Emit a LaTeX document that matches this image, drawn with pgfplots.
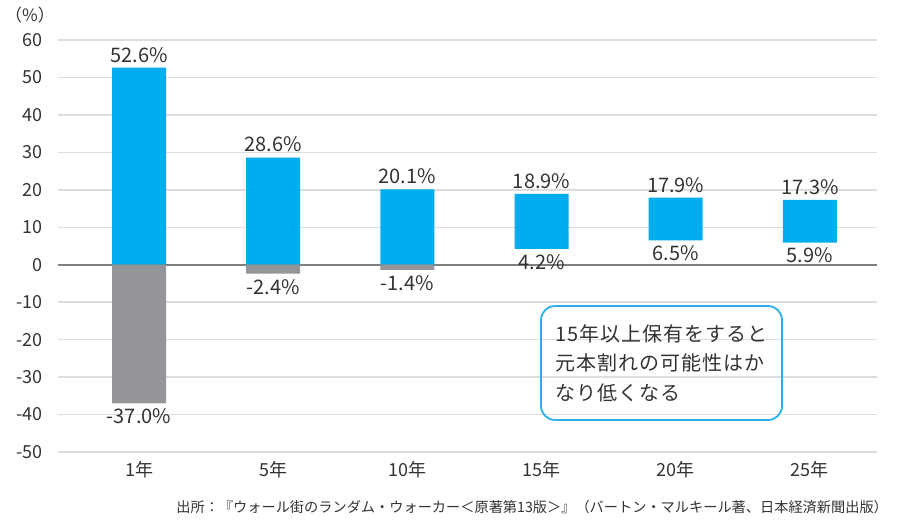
\documentclass[border=0pt]{standalone}
\usepackage{fontspec}
\setmainfont{Noto Sans CJK JP}
\usepackage{pgfplots}
\pgfplotsset{compat=1.18}
\definecolor{barblue}{HTML}{00AEEF}
\definecolor{bargray}{HTML}{939598}
\definecolor{txt}{HTML}{333333}
\definecolor{gridc}{HTML}{DDDDDD}
\definecolor{boxblue}{HTML}{29B0E6}
\pgfplotsset{base/.style={
  at={(29pt,37pt)}, anchor=south west, scale only axis,
  width=409.5pt, height=206pt,
  xmin=-0.604, xmax=5.5, ymin=-50, ymax=60,
  clip=false,
}}
\begin{document}
\begin{tikzpicture}
\path[use as bounding box] (0,0) rectangle (450pt,263pt);
\begin{axis}[base,
  ybar stacked, bar width=27pt,
  xtick={0,1,2,3,4,5},
  xticklabels={1年,5年,10年,15年,20年,25年},
  ytick={-50,-40,-30,-20,-10,0,10,20,30,40,50,60},
  axis lines=left, axis line style={draw=none},
  ymajorgrids, grid style={gridc, line width=0.7pt},
  extra y ticks={0}, extra y tick labels={},
  extra y tick style={grid style={draw=gray, line width=0.8pt}},
  major tick length=0pt,
  tick label style={font=\fontsize{9}{10}\selectfont, text=txt},
  /pgf/number format/assume math mode=true,
  yticklabel style={xshift=-4pt},
  xticklabel style={yshift=-1pt},
]
% negative stack (stacked separately from the positive one)
\addplot[fill=bargray, draw=none] coordinates {(0,-37.0) (1,-2.4) (2,-1.4) (3,0) (4,0) (5,0)};
% positive stack: invisible base, then blue range
\addplot[fill=none, draw=none] coordinates {(0,0) (1,0) (2,0) (3,4.2) (4,6.5) (5,5.9)};
\addplot[fill=barblue, draw=none] coordinates {(0,52.6) (1,28.6) (2,20.1) (3,14.7) (4,11.4) (5,11.4)};
\end{axis}
\begin{axis}[base, hide axis]
\addplot[draw=none, nodes near coords, point meta=explicit symbolic,
  every node near coord/.style={anchor=south, inner sep=2.5pt, font=\fontsize{10}{12}\selectfont, text=txt}]
  coordinates {(0,52.6)[52.6\%] (1,28.6)[28.6\%] (2,20.1)[20.1\%] (3,18.9)[18.9\%] (4,17.9)[17.9\%] (5,17.3)[17.3\%]};
\addplot[draw=none, nodes near coords, point meta=explicit symbolic,
  every node near coord/.style={anchor=north, inner sep=2.5pt, font=\fontsize{10}{12}\selectfont, text=txt}]
  coordinates {(0,-37.0)[-37.0\%] (1,-2.4)[-2.4\%] (2,-1.4)[-1.4\%] (3,4.2)[4.2\%] (4,6.5)[6.5\%] (5,5.9)[5.9\%]};
\end{axis}
\node[text=txt, font=\fontsize{8.5}{9}\selectfont] at (15pt,255.5pt) {（\%）};
\node[draw=boxblue, line width=0.9pt, rounded corners=7pt, minimum width=120.5pt, minimum height=57pt,
  align=left, text=txt, font=\fontsize{10}{14.75}\selectfont\addfontfeature{LetterSpace=5}]
  at (330.75pt,81.5pt) {15年以上保有をすると\\元本割れの可能性はか\\なり低くなる};
\node[anchor=east, text=txt, font=\fontsize{7.1}{8}\selectfont] at (447.5pt,9.5pt)
  {出所：『ウォール街のランダム・ウォーカー＜原著第13版＞』（バートン・マルキール著、日本経済新聞出版）};
\end{tikzpicture}
\end{document}
